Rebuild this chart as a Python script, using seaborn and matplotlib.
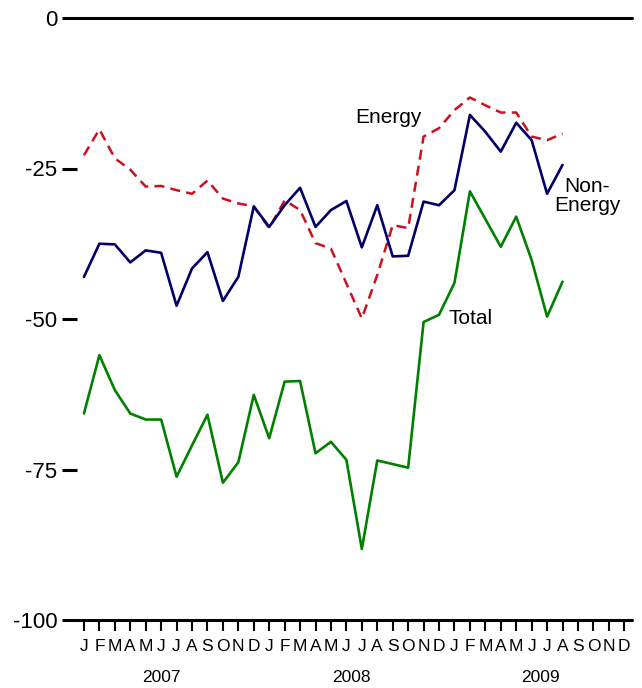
import pandas as pd
import matplotlib
matplotlib.use('Agg')
import matplotlib.pyplot as plt
import seaborn as sns

# monthly values, Jan 2007 - Aug 2009
bulan = list(range(32))
total = [-65.7, -56.0, -61.8, -65.7, -66.7, -66.7, -76.2, -71.0, -65.9, -77.2,
         -73.8, -62.6, -69.8, -60.4, -60.3, -72.3, -70.4, -73.4, -88.2, -73.5,
         -74.1, -74.7, -50.5, -49.3, -44.0, -28.8, -33.4, -38.0, -33.0, -40.2,
         -49.6, -43.8]
non_energy = [-43.0, -37.5, -37.6, -40.6, -38.6, -39.0, -47.8, -41.6, -38.9, -47.0,
              -43.0, -31.3, -34.7, -31.1, -28.2, -34.7, -31.9, -30.4, -38.1, -31.1,
              -39.6, -39.5, -30.5, -31.1, -28.6, -16.1, -18.9, -22.2, -17.4, -20.3,
              -29.2, -24.4]
energy = [-22.8, -18.5, -23.3, -25.2, -28.0, -27.9, -28.6, -29.2, -27.0, -30.0,
          -30.8, -31.3, -34.9, -30.3, -31.9, -37.4, -38.3, -44.1, -49.9, -42.7,
          -34.4, -34.9, -19.7, -18.3, -15.3, -13.2, -14.5, -15.7, -15.7, -19.7,
          -20.3, -19.2]

huruf_bulan = list('JFMAMJJASOND') * 3
tahun = ['2007', '2008', '2009']
posisi_tahun = [5.0, 17.3, 29.6]

data = pd.DataFrame({'Bulan': bulan, 'Total': total,
                     'Non-Energy': non_energy, 'Energy': energy})

sns.set_style('white')
plt.rcParams['font.family'] = ['Liberation Sans', 'DejaVu Sans']
plt.rcParams['text.color'] = 'black'
plt.rcParams['xtick.color'] = 'black'
plt.rcParams['ytick.color'] = 'black'

fig = plt.figure(figsize=(6.42, 6.88), dpi=100)
ax = fig.add_axes([77 / 642, 68 / 688, 555 / 642, 602 / 688])

sns.lineplot(data=data, x='Bulan', y='Energy', color='#cc1020', lw=1.8,
             linestyle=(0, (4, 2.5)), ax=ax)
sns.lineplot(data=data, x='Bulan', y='Non-Energy', color='#000066', lw=1.9, ax=ax)
sns.lineplot(data=data, x='Bulan', y='Total', color='#008000', lw=1.9, ax=ax)

ax.set_xlim(-0.45, 35.5)
ax.set_ylim(-100, 0)
for s in ax.spines.values():
    s.set_visible(False)
ax.axhline(0, color='black', lw=2.2, clip_on=False)
ax.axhline(-100, color='black', lw=2.2, clip_on=False)

ax.set_yticks([0, -25, -50, -75, -100])
ax.set_yticklabels(['0', '-25', '-50', '-75', '-100'], fontsize=16)
ax.tick_params(axis='y', left=True, direction='out', length=10.8, width=2.2,
               pad=3.5, labelcolor='black')
ax.set_xticks(range(36))
ax.set_xticklabels(huruf_bulan, fontsize=12.5)
ax.tick_params(axis='x', bottom=True, direction='out', length=8, width=1.5,
               pad=6, labelcolor='black')
ax.set_xlabel('')
ax.set_ylabel('')

for t, p in zip(tahun, posisi_tahun):
    ax.text(p, -109.6, t, fontsize=12.5, ha='center', va='center', clip_on=False)

ax.text(17.6, -16.5, 'Energy', fontsize=15, ha='left', va='center')
ax.text(32.6, -29.5, 'Non-\nEnergy', fontsize=15, ha='center', va='center',
        linespacing=1.0)
ax.text(23.6, -50.0, 'Total', fontsize=15, ha='left', va='center')

fig.savefig('out.png', dpi=100)
